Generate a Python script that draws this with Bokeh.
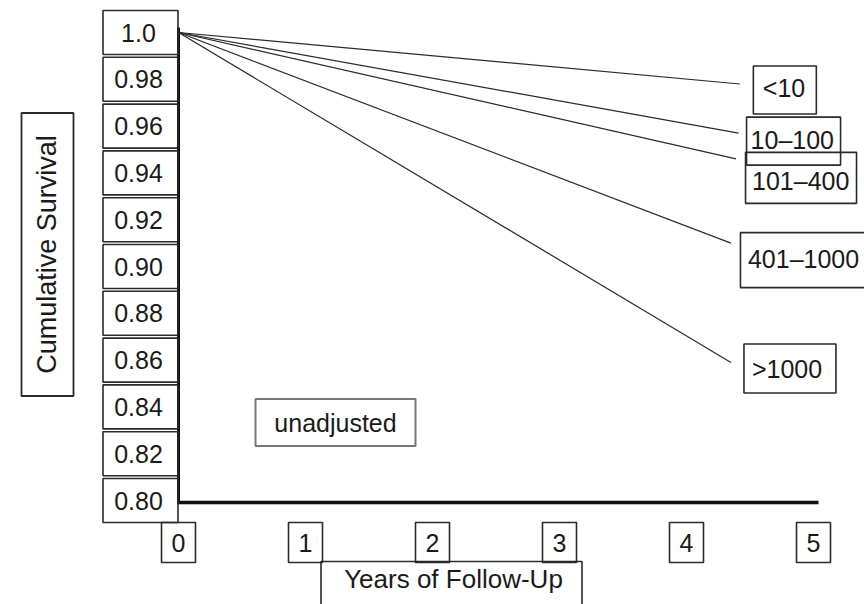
import math
from bokeh.plotting import figure
from bokeh.models import Range1d, ColumnDataSource
from bokeh.core.properties import value
from bokeh.embed import file_html
from bokeh.resources import INLINE

# ---------------- data ----------------
years = [0, 1, 2, 3, 4, 5]
year_labels = ["0", "1", "2", "3", "4", "5"]
survival_ticks = [1.0, 0.98, 0.96, 0.94, 0.92, 0.90, 0.88, 0.86, 0.84, 0.82, 0.80]
survival_labels = ["1.0", "0.98", "0.96", "0.94", "0.92", "0.90",
                   "0.88", "0.86", "0.84", "0.82", "0.80"]
groups = ["<10", "10\u2013100", "101\u2013400", "401\u20131000", ">1000"]
start_year = 0.0
start_survival = 1.0
end_year = [4.42, 4.41, 4.39, 4.35, 4.35]
end_survival = [0.978, 0.957, 0.946, 0.910, 0.859]
x_title = "Years of Follow-Up"
y_title = "Cumulative Survival"
note_text = "unadjusted"

# ---------------- layout ----------------
W, H = 864, 604
PX_X = 127.0      # pixels per year
PX_Y = 2340.0     # pixels per unit survival
X0 = -178.0 / PX_X
X1 = X0 + W / PX_X
Y1 = 1.0 + 32.0 / PX_Y
Y0 = Y1 - H / PX_Y


def dx(px):
    return px / PX_X


def dy(px):
    return px / PX_Y


FONT = value("Liberation Sans")
FS = "25px"
TXT = "#1a1a1a"
BOX = "#2a2a2a"

p = figure(width=W, height=H, output_backend="svg", toolbar_location=None,
           x_range=Range1d(X0, X1), y_range=Range1d(Y0, Y1),
           min_border=0, x_axis_location=None, y_axis_location=None)
p.grid.visible = False
p.outline_line_color = None
p.background_fill_color = "white"
p.border_fill_color = "white"

y_min = survival_ticks[-1]
y_max = survival_ticks[0]

# axis lines
p.segment(x0=[years[0]], y0=[y_min - dy(2)], x1=[years[0]], y1=[y_max + dy(5)],
          line_color="#111111", line_width=3)
p.segment(x0=[years[0] - dx(1.5)], y0=[y_min - dy(2)], x1=[years[-1] + dx(5)],
          y1=[y_min - dy(2)], line_color="#111111", line_width=3.5)

# y tick labels with boxes
ysrc = ColumnDataSource(dict(x=[dx(-38)] * len(survival_ticks), y=survival_ticks,
                             t=survival_labels))
p.rect(x="x", y="y", width=75, height=44, width_units="screen", height_units="screen",
       source=ysrc, fill_color=None, line_color=BOX, line_width=1.6)
p.text(x="x", y="y", text="t", source=ysrc, text_font=FONT, text_font_size=FS,
       text_align="center", text_baseline="middle", text_color=TXT, x_offset=-2)

# x tick labels with boxes
xsrc = ColumnDataSource(dict(x=years, y=[y_min - dy(42)] * len(years), t=year_labels))
p.rect(x="x", y="y", width=34, height=40, width_units="screen", height_units="screen",
       source=xsrc, fill_color=None, line_color=BOX, line_width=1.6)
p.text(x="x", y="y", text="t", source=xsrc, text_font=FONT, text_font_size=FS,
       text_align="center", text_baseline="middle", text_color=TXT)

# survival lines
lsrc = ColumnDataSource(dict(x0=[start_year] * len(groups), y0=[start_survival] * len(groups),
                             x1=end_year, y1=end_survival))
p.segment(x0="x0", y0="y0", x1="x1", y1="y1", source=lsrc,
          line_color="#2a2a2a", line_width=1.2)

# group labels at line ends
lab_dx = [23, 12, 16, 17, 21]
lab_dy = [4, 7, 22, 16, 7]
box_dx = [45, 55, 65, 72, 59]
box_dy = [6, 8, 19, 17, 6]
box_w = [63, 94, 111, 125, 92]
box_h = [48, 48, 51, 55, 49]
gsrc = ColumnDataSource(dict(
    tx=[e + dx(o) for e, o in zip(end_year, lab_dx)],
    ty=[e - dy(o) for e, o in zip(end_survival, lab_dy)],
    bx=[e + dx(o) for e, o in zip(end_year, box_dx)],
    by=[e - dy(o) for e, o in zip(end_survival, box_dy)],
    bw=box_w, bh=box_h, t=groups))
p.rect(x="bx", y="by", width="bw", height="bh", width_units="screen", height_units="screen",
       source=gsrc, fill_color=None, line_color=BOX, line_width=1.6)
p.text(x="tx", y="ty", text="t", source=gsrc, text_font=FONT, text_font_size=FS,
       text_align="left", text_baseline="middle", text_color=TXT)

# y title (rotated) with box
yt_x = years[0] - dx(132)
yt_y = start_survival - dy(222)
p.rect(x=[yt_x + dx(1)], y=[yt_y], width=52, height=283, width_units="screen",
       height_units="screen", fill_color=None, line_color=BOX, line_width=1.8)
p.text(x=[yt_x], y=[yt_y], text=[y_title], angle=math.pi / 2, text_font=FONT,
       text_font_size="27px", text_align="center", text_baseline="middle", text_color=TXT)

# x title with box
xt_x = years[0] + dx(275)
xt_y = y_min - dy(78)
p.rect(x=[xt_x - dx(2)], y=[xt_y - dy(8)], width=261, height=50, width_units="screen",
       height_units="screen", fill_color=None, line_color=BOX, line_width=1.6)
p.text(x=[xt_x], y=[xt_y], text=[x_title], text_font=FONT, text_font_size="26px",
       text_align="center", text_baseline="middle", text_color=TXT)

# "unadjusted" note
nt_x = years[0] + dx(157)
nt_y = start_survival - dy(390)
p.rect(x=[nt_x], y=[nt_y], width=160, height=47, width_units="screen",
       height_units="screen", fill_color=None, line_color="#777777", line_width=2)
p.text(x=[nt_x], y=[nt_y], text=[note_text], text_font=FONT, text_font_size=FS,
       text_align="center", text_baseline="middle", text_color=TXT)

open("out.html", "w").write(file_html(p, INLINE))
